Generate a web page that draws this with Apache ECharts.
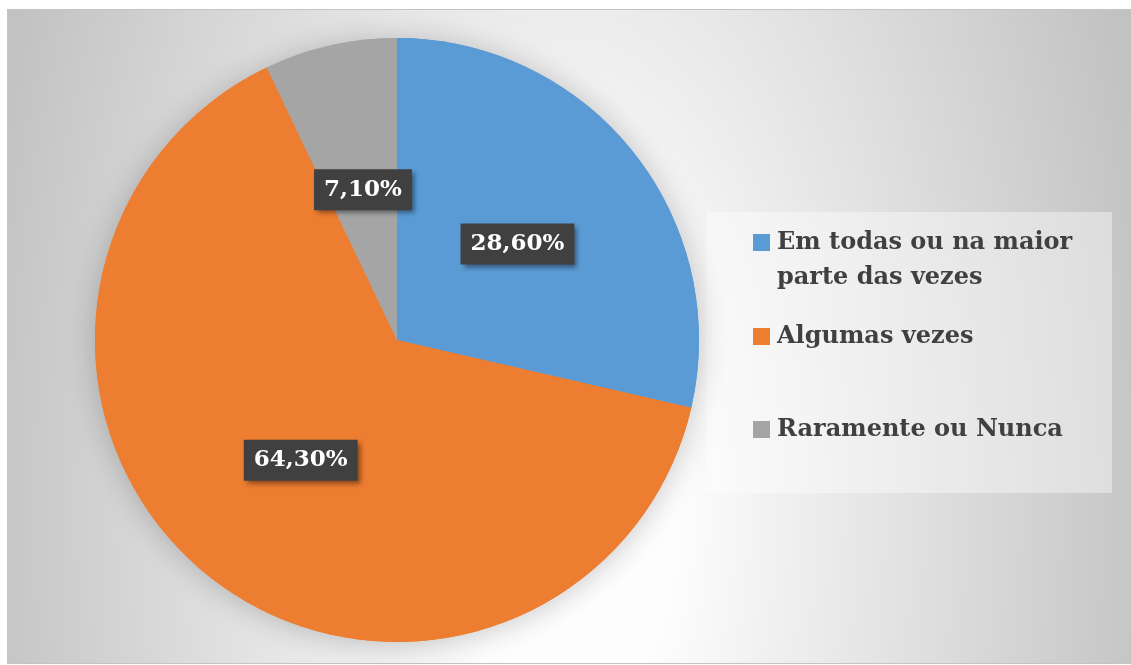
<!DOCTYPE html>
<html>
<head>
<meta charset="utf-8">
<script src="https://cdn.jsdelivr.net/npm/echarts@6/dist/echarts.min.js"></script>
<style>
  html, body { margin: 0; padding: 0; background: #fff; }
  #wrap { position: relative; width: 1131px; height: 665px; overflow: hidden; }
  #panel {
    position: absolute; left: 7px; top: 9px; width: 1140px; height: 653px;
    border: 1px solid #c4c4c4;
    background: radial-gradient(ellipse 600px 1200px at 560px 500px, #ffffff 0%, #fdfdfd 18%, #c2c2c2 100%);
  }
  #legendBox {
    position: absolute; left: 706px; top: 212px; width: 406px; height: 281px;
    background: rgba(255, 255, 255, 0.4);
  }
  #chart { position: absolute; left: 0; top: 0; width: 1131px; height: 665px; }
</style>
</head>
<body>
<div id="wrap">
  <div id="panel"></div>
  <div id="legendBox"></div>
  <div id="chart"></div>
</div>
<script>
// chart data
var categories = ['Em todas ou na maior parte das vezes', 'Algumas vezes', 'Raramente ou Nunca']
var values = [28.6, 64.3, 7.1]
var colors = ['#5b9bd5', '#ed7d31', '#a5a5a5']

var serif = '"DejaVu Serif", "Liberation Serif", serif'

var chart = echarts.init(document.getElementById('chart'), null, { renderer: 'canvas' })

var pieData = categories.map(function (name, i) {
  return { name: name, value: values[i], itemStyle: { color: colors[i] } }
})

// one legend per item so the spacing can follow the original
function legendFor(i, top, formatter) {
  return {
    data: [categories[i]],
    left: 753,
    top: top,
    orient: 'vertical',
    padding: 0,
    itemWidth: 17,
    itemHeight: 17,
    icon: 'rect',
    selectedMode: false,
    formatter: formatter,
    textStyle: {
      fontFamily: serif,
      fontWeight: 'bold',
      fontSize: 24,
      lineHeight: 35,
      color: '#404040',
      padding: [0, 0, 0, 2]
    }
  }
}

chart.setOption({
  backgroundColor: 'transparent',
  animation: false,
  legend: [
    // leading blank line keeps the marker next to the first line of the wrapped name
    legendFor(0, 190, function () { return '\nEm todas ou na maior\nparte das vezes' }),
    legendFor(1, 319),
    legendFor(2, 412)
  ],
  series: [
    {
      type: 'pie',
      z: 3,
      center: [397, 340],
      radius: 302,
      startAngle: 90,
      clockwise: true,
      silent: true,
      data: pieData,
      labelLine: { show: false },
      label: {
        show: true,
        position: 'inside',
        formatter: function (p) {
          return p.value.toFixed(2).replace('.', ',') + '%'
        },
        fontFamily: serif,
        fontWeight: 'bold',
        fontSize: 23,
        lineHeight: 30,
        color: '#ffffff',
        backgroundColor: '#404040',
        padding: [6, 10, 5, 10],
        shadowColor: 'rgba(0,0,0,0.45)',
        shadowBlur: 5,
        shadowOffsetX: 3,
        shadowOffsetY: 3
      }
    },
    {
      // soft halo behind the pie
      type: 'pie',
      z: 1,
      center: [397, 340],
      radius: 302,
      startAngle: 90,
      silent: true,
      data: pieData,
      label: { show: false },
      labelLine: { show: false },
      itemStyle: {
        shadowBlur: 30,
        shadowColor: 'rgba(0,0,0,0.22)',
        shadowOffsetY: 2
      }
    }
  ]
})
</script>
</body>
</html>
